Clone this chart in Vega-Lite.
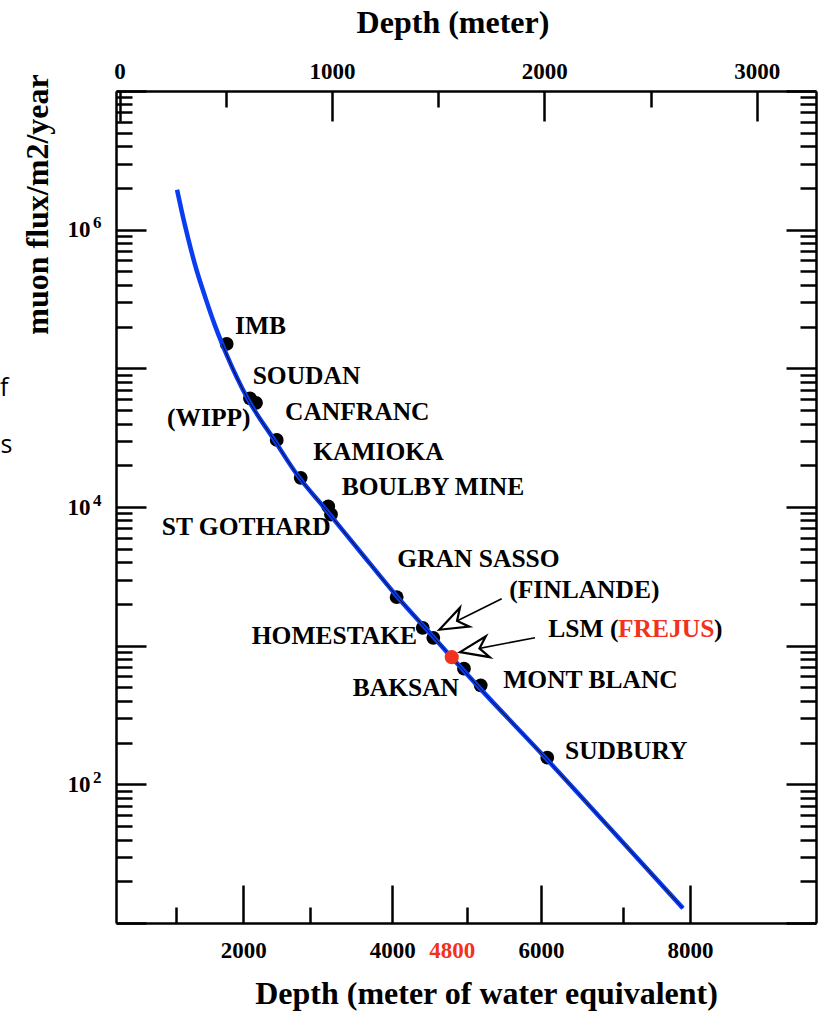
{
  "$schema": "https://vega.github.io/schema/vega-lite/v6.json",
  "width": 700,
  "height": 832,
  "autosize": {"type": "none"},
  "padding": {"left": 116, "top": 91, "right": 9, "bottom": 89},
  "background": "white",
  "config": {
    "view": {"stroke": null},
    "axis": {
      "domainColor": "black", "domainWidth": 2.5, "tickColor": "black", "tickWidth": 2.5,
      "labelFont": "Liberation Serif", "labelFontWeight": "bold", "labelColor": "black", "labelFontSize": 23,
      "titleFont": "Liberation Serif", "titleFontWeight": "bold", "titleColor": "black", "titleFontSize": 32,
      "grid": false, "labelFlush": false, "labelOverlap": false, "labelBound": false
    }
  },
  "datasets": {
    "curve": [
      {"mwe": 1110, "flux": 1943000}, {"mwe": 1177, "flux": 1326000}, {"mwe": 1257, "flux": 875600},
      {"mwe": 1351, "flux": 559300}, {"mwe": 1486, "flux": 329000}, {"mwe": 1620, "flux": 203300},
      {"mwe": 1714, "flux": 150800}, {"mwe": 1781, "flux": 123600}, {"mwe": 2050, "flux": 61550},
      {"mwe": 2412, "flux": 30660}, {"mwe": 2721, "flux": 17150}, {"mwe": 3097, "flux": 9754},
      {"mwe": 3568, "flux": 4779}, {"mwe": 4065, "flux": 2265}, {"mwe": 4548, "flux": 1166},
      {"mwe": 4776, "flux": 850}, {"mwe": 5179, "flux": 492}, {"mwe": 6053, "flux": 156.5},
      {"mwe": 6926, "flux": 48.2}, {"mwe": 7906, "flux": 12.78}
    ],
    "sites": [
      {"name": "IMB", "mwe": 1777, "flux": 150000},
      {"name": "SOUDAN", "mwe": 2090, "flux": 60810},
      {"name": "WIPP", "mwe": 2171, "flux": 56360},
      {"name": "CANFRANC", "mwe": 2449, "flux": 30480},
      {"name": "KAMIOKA", "mwe": 2771, "flux": 16220},
      {"name": "BOULBY", "mwe": 3141, "flux": 10090},
      {"name": "ST GOTHARD", "mwe": 3178, "flux": 8831},
      {"name": "GRAN SASSO", "mwe": 4060, "flux": 2239},
      {"name": "HOMESTAKE", "mwe": 4410, "flux": 1346},
      {"name": "FINLANDE", "mwe": 4552, "flux": 1140},
      {"name": "LSM", "mwe": 4800, "flux": 826},
      {"name": "BAKSAN", "mwe": 4964, "flux": 682},
      {"name": "MONT BLANC", "mwe": 5189, "flux": 517.6},
      {"name": "SUDBURY", "mwe": 6083, "flux": 155.6}
    ],
    "labels": [
      {"label": "IMB", "mwe": 1889, "flux": 202300},
      {"label": "SOUDAN", "mwe": 2126, "flux": 88660},
      {"label": "(WIPP)", "mwe": 975, "flux": 44160},
      {"label": "CANFRANC", "mwe": 2560, "flux": 48220},
      {"label": "KAMIOKA", "mwe": 2940, "flux": 24830},
      {"label": "BOULBY MINE", "mwe": 3322, "flux": 14050},
      {"label": "ST GOTHARD", "mwe": 904, "flux": 7117},
      {"label": "GRAN SASSO", "mwe": 4069, "flux": 4183},
      {"label": "(FINLANDE)", "mwe": 5573, "flux": 2502},
      {"label": "HOMESTAKE", "mwe": 2113, "flux": 1166},
      {"label": "LSM (", "mwe": 6097, "flux": 1310},
      {"label": "FREJUS", "mwe": 7033, "flux": 1310},
      {"label": ")", "mwe": 8322, "flux": 1310},
      {"label": "BAKSAN", "mwe": 3470, "flux": 496},
      {"label": "MONT BLANC", "mwe": 5492, "flux": 561.6},
      {"label": "SUDBURY", "mwe": 6321, "flux": 172.9}
    ],
    "arrows": [
      {"name": "FINLANDE", "mwe": 4633, "flux": 1303, "mwe2": 5471, "flux2": 2179},
      {"name": "LSM", "mwe": 4911, "flux": 898.5, "mwe2": 5918, "flux2": 1141}
    ],
    "stray": [
      {"label": "f", "mwe": -1268, "flux": 63620},
      {"label": "s", "mwe": -1261, "flux": 24330}
    ],
    "frame": [
      {"m": 0, "flux": 10},
      {"m": 3000, "flux": 10000000}
    ]
  },
  "resolve": {"scale": {"x": "independent"}, "axis": {"x": "independent", "y": "independent"}},
  "layer": [
    {
      "encoding": {
        "x": {
          "field": "mwe", "type": "quantitative",
          "scale": {"domain": [290, 9693], "nice": false, "zero": false},
          "axis": {
            "orient": "bottom", "title": "Depth (meter of water equivalent)",
            "values": [1100, 2000, 2900, 4000, 4800, 5000, 6000, 7100, 8000], "format": "d",
            "labelExpr": "indexof([2000,4000,4800,6000,8000], datum.value) >= 0 ? datum.label : ''",
            "tickSize": {"condition": {"test": "indexof([2000,4000,4800,6000,8000], datum.value) >= 0", "value": -38}, "value": -16},
            "tickOpacity": {"condition": {"test": "datum.value == 4800", "value": 0}, "value": 1},
            "labelColor": {"condition": {"test": "datum.value == 4800", "value": "#f0321e"}, "value": "black"},
            "labelPadding": 54.4,
            "titleX": 370, "titleY": 80.5, "titleBaseline": "alphabetic", "titleAlign": "center"
          }
        },
        "y": {
          "field": "flux", "type": "quantitative",
          "scale": {"type": "log", "domain": [10, 10000000], "nice": false},
          "axis": {
            "orient": "left", "title": "muon flux/m2/year",
            "values": [10,20,30,40,50,60,70,80,90,100,200,300,400,500,600,700,800,900,1000,2000,3000,4000,5000,6000,7000,8000,9000,10000,20000,30000,40000,50000,60000,70000,80000,90000,100000,200000,300000,400000,500000,600000,700000,800000,900000,1000000,2000000,3000000,4000000,5000000,6000000,7000000,8000000,9000000,10000000],
            "labelExpr": "indexof([100,10000,1000000], datum.value) >= 0 ? '10' : ''",
            "tickSize": {"condition": {"test": "indexof([10,100,1000,10000,100000,1000000,10000000], datum.value) >= 0", "value": -30}, "value": -16},
            "labelPadding": 56, "labelAlign": "right", "labelBaseline": "middle",
            "titleAngle": -90, "titleX": -69, "titleY": 113, "titleBaseline": "alphabetic", "titleAlign": "center"
          }
        }
      },
      "layer": [
        {
          "data": {"name": "sites"},
          "transform": [{"filter": "datum.name != 'LSM'"}],
          "mark": {"type": "circle", "size": 190, "opacity": 1, "color": "black"}
        },
        {
          "data": {"name": "curve"},
          "mark": {"type": "line", "color": "#0a3cf0", "strokeWidth": 4.5, "interpolate": "monotone"}
        },
        {
          "data": {"name": "curve"},
          "transform": [{"filter": "datum.mwe >= 1714"}],
          "mark": {"type": "line", "color": "black", "strokeWidth": 0.9, "interpolate": "monotone"}
        },
        {
          "data": {"name": "sites"},
          "transform": [{"filter": "datum.name == 'LSM'"}],
          "mark": {"type": "circle", "size": 200, "opacity": 1, "color": "#f0321e"}
        },
        {
          "data": {"name": "arrows"},
          "mark": {"type": "rule", "color": "black", "strokeWidth": 1.6},
          "encoding": {"x2": {"field": "mwe2"}, "y2": {"field": "flux2"}}
        },
        {
          "data": {"name": "arrows"},
          "transform": [{"filter": "datum.name == 'FINLANDE'"}],
          "mark": {"type": "point", "shape": "M0,0L2,-0.75L1.4,0L2,0.75Z", "size": 800, "filled": true, "fill": "white", "stroke": "black", "strokeWidth": 2.2, "angle": 333.6, "opacity": 1}
        },
        {
          "data": {"name": "arrows"},
          "transform": [{"filter": "datum.name == 'LSM'"}],
          "mark": {"type": "point", "shape": "M0,0L2,-0.75L1.4,0L2,0.75Z", "size": 800, "filled": true, "fill": "white", "stroke": "black", "strokeWidth": 2.2, "angle": 349.1, "opacity": 1}
        },
        {
          "data": {"name": "labels"},
          "mark": {"type": "text", "align": "left", "baseline": "middle", "font": "Liberation Serif", "fontWeight": "bold", "fontSize": 25.5},
          "encoding": {
            "text": {"field": "label"},
            "color": {"condition": {"test": "datum.label == 'FREJUS'", "value": "#f0321e"}, "value": "black"}
          }
        },
        {
          "data": {"name": "stray"},
          "mark": {"type": "text", "align": "left", "baseline": "alphabetic", "font": "Open Sans", "fontSize": 25, "color": "black"},
          "encoding": {"text": {"field": "label"}}
        }
      ]
    },
    {
      "data": {"name": "frame"},
      "mark": {"type": "point", "opacity": 0},
      "encoding": {
        "x": {
          "field": "m", "type": "quantitative",
          "scale": {"domain": [-16.5, 3279], "nice": false, "zero": false},
          "axis": {
            "orient": "top", "title": "Depth (meter)",
            "values": [0, 500, 1000, 1500, 2000, 2500, 3000], "format": "d",
            "labelExpr": "datum.value % 1000 == 0 ? datum.label : ''",
            "tickSize": {"condition": {"test": "datum.value % 1000 == 0", "value": -30}, "value": -16},
            "labelPadding": 37.9,
            "titleX": 336.5, "titleY": -59, "titleBaseline": "alphabetic", "titleAlign": "center"
          }
        },
        "y": {
          "field": "flux", "type": "quantitative",
          "scale": {"type": "log", "domain": [10, 10000000], "nice": false},
          "axis": {
            "orient": "right", "title": null, "labels": false,
            "values": [10,20,30,40,50,60,70,80,90,100,200,300,400,500,600,700,800,900,1000,2000,3000,4000,5000,6000,7000,8000,9000,10000,20000,30000,40000,50000,60000,70000,80000,90000,100000,200000,300000,400000,500000,600000,700000,800000,900000,1000000,2000000,3000000,4000000,5000000,6000000,7000000,8000000,9000000,10000000],
            "tickSize": {"condition": {"test": "indexof([10,100,1000,10000,100000,1000000,10000000], datum.value) >= 0", "value": -30}, "value": -16}
          }
        }
      }
    },
    {
      "data": {"name": "frame"},
      "mark": {"type": "point", "opacity": 0},
      "encoding": {
        "y": {
          "field": "flux", "type": "quantitative",
          "scale": {"type": "log", "domain": [10, 10000000], "nice": false},
          "axis": {
            "orient": "left", "title": null, "values": [100, 10000, 1000000],
            "ticks": false, "domain": false,
            "labelExpr": "'' + round(log(datum.value)/LN10)",
            "labelFontSize": 17, "labelPadding": 15, "labelOffset": -7, "labelAlign": "right", "labelBaseline": "middle"
          }
        }
      }
    }
  ]
}
